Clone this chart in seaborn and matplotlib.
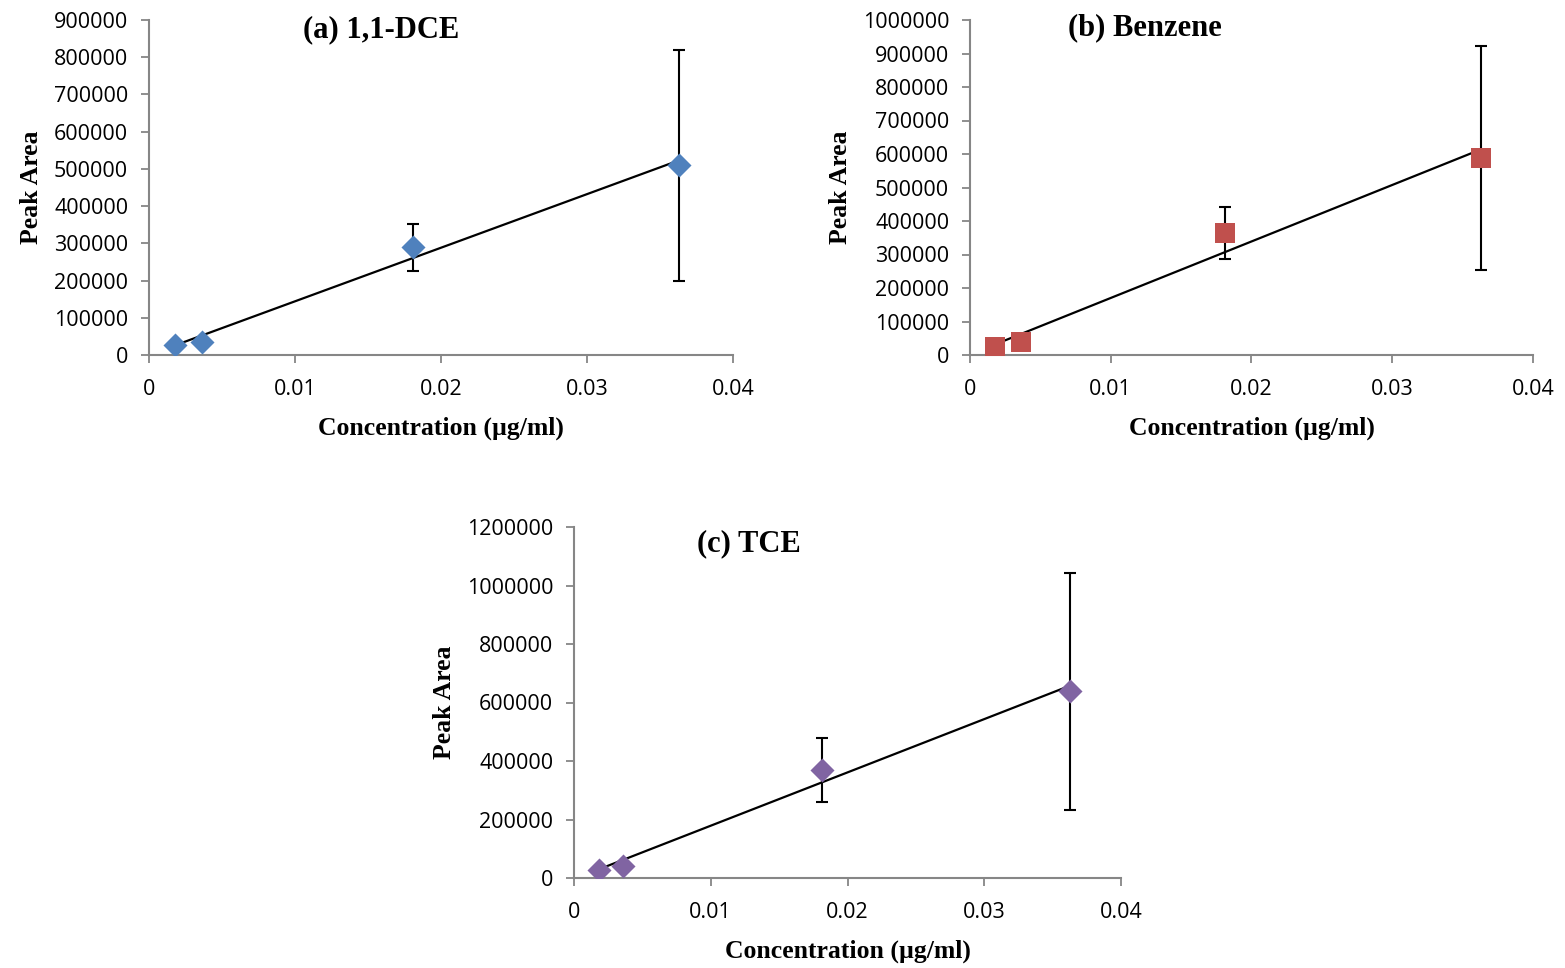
import numpy as np
import pandas as pd
import matplotlib
matplotlib.use("Agg")
import matplotlib.pyplot as plt
import seaborn as sns
from matplotlib.ticker import FuncFormatter, MultipleLocator

# Data
conc = [0.0018, 0.0036, 0.0181, 0.0363]

dce_area = [27000, 35000, 290000, 510000]
dce_err = [8000, 12000, 63000, 310000]

benz_area = [24000, 39000, 364000, 588000]
benz_err = [6000, 9000, 77000, 334000]

tce_area = [27000, 41000, 369000, 639000]
tce_err = [8000, 14000, 109000, 405000]

panels = [
    # title, y values, errors, colour, marker, msize, ymax, ystep, axes rect, title xy
    ("(a) 1,1-DCE", dce_area, dce_err, "#4F81BD", "D", 150, 900000, 100000,
     [149 / 1565, 1 - 355 / 968, 584 / 1565, 335 / 968], (0.397, 1.015)),
    ("(b) Benzene", benz_area, benz_err, "#C0504D", "s", 200, 1000000, 100000,
     [970 / 1565, 1 - 355 / 968, 563 / 1565, 335 / 968], (0.31, 1.02)),
    ("(c) TCE", tce_area, tce_err, "#8064A2", "D", 150, 1200000, 200000,
     [574 / 1565, 1 - 878 / 968, 547 / 1565, 351 / 968], (0.32, 0.995)),
]

sns.set_style("ticks")
plt.rcParams["font.family"] = ["Open Sans", "DejaVu Sans"]
plt.rcParams["text.color"] = "black"
plt.rcParams["axes.labelcolor"] = "black"
serif = ["Liberation Serif", "DejaVu Serif"]
grey = "#868686"

fig = plt.figure(figsize=(15.65, 9.68), dpi=100)

for title, area, err, col, mk, ms, ymax, ystep, rect, txy in panels:
    ax = fig.add_axes(rect)
    df = pd.DataFrame({"conc": conc, "area": area})
    ax.errorbar(conc, area, yerr=err, fmt="none", ecolor="black",
                elinewidth=1.5, capsize=4.5, capthick=1.5, zorder=2)
    sns.regplot(data=df, x="conc", y="area", ax=ax, scatter=False, ci=None,
                line_kws={"color": "black", "lw": 1.6, "zorder": 3})
    sns.scatterplot(data=df, x="conc", y="area", ax=ax, marker=mk, s=ms,
                    color=col, edgecolor=col, linewidth=0, zorder=4)
    ax.set_xlim(0, 0.04)
    ax.set_ylim(0, ymax)
    ax.xaxis.set_major_locator(MultipleLocator(0.01))
    ax.yaxis.set_major_locator(MultipleLocator(ystep))
    ax.xaxis.set_major_formatter(FuncFormatter(lambda v, p: f"{v:g}"))
    ax.yaxis.set_major_formatter(FuncFormatter(lambda v, p: f"{int(round(v))}"))
    for s in ["top", "right"]:
        ax.spines[s].set_visible(False)
    for s in ["left", "bottom"]:
        ax.spines[s].set_color(grey)
        ax.spines[s].set_linewidth(1.5)
    ax.tick_params(axis="both", direction="out", length=6, width=1.3,
                   color=grey, labelsize=15.5, labelcolor="black")
    ax.tick_params(axis="x", pad=11)
    ax.tick_params(axis="y", pad=9)
    ax.set_xlabel("Concentration (µg/ml)", family=serif, fontweight="bold",
                  fontsize=18.5, labelpad=12)
    ax.set_ylabel("Peak Area", family=serif, fontweight="bold", fontsize=18.5,
                  labelpad=8)
    ax.text(txy[0], txy[1], title, transform=ax.transAxes, family=serif,
            fontweight="bold", fontsize=22, ha="center", va="top")

fig.savefig("out.png", dpi=100)
